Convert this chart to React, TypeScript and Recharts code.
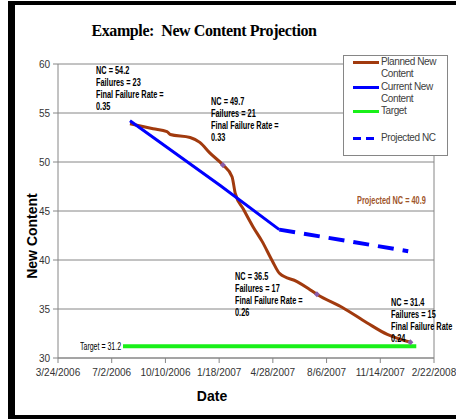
import { LineChart, Line, XAxis, YAxis, CartesianGrid, ReferenceLine } from 'recharts';

const plannedDates = [
  '2006-08-05', '2006-09-17', '2006-10-13', '2006-10-19', '2006-11-25', '2006-12-13',
  '2007-01-01', '2007-01-25', '2007-02-11', '2007-02-17', '2007-03-04', '2007-03-22',
  '2007-04-08', '2007-04-27', '2007-05-11', '2007-06-12', '2007-07-03', '2007-07-19',
  '2007-09-06', '2007-10-20', '2007-11-27', '2008-01-09',
];
const plannedValues = [
  53.9, 53.4, 53.1, 52.8, 52.5, 52.0,
  50.9, 49.7, 48.5, 46.8, 45.2, 43.4,
  41.9, 39.9, 38.6, 37.8, 37.1, 36.5,
  35.1, 33.6, 32.4, 31.6,
];
const plannedMarkers = [7, 17, 21];

const currentDates = ['2006-08-05', '2007-01-20', '2007-05-10'];
const currentValues = [54.2, 47.6, 43.1];

const projectedDates = ['2007-05-10', '2008-01-05'];
const projectedValues = [43.1, 40.9];

const targetDates = ['2006-07-23', '2008-01-20'];
const targetValues = [31.2, 31.2];

const xTicks = [0, 100, 200, 300, 400, 500, 600, 700];
const yTicks = [30, 35, 40, 45, 50, 55, 60];

const START = Date.UTC(2006, 2, 24);
const DAY = 86400000;
const toDay = (s: string) => Math.round((Date.parse(s + 'T00:00:00Z') - START) / DAY);
const fmtDay = (d: number) => {
  const dt = new Date(START + d * DAY);
  return `${dt.getUTCMonth() + 1}/${dt.getUTCDate()}/${dt.getUTCFullYear()}`;
};
const build = (dates: string[], values: number[]) =>
  dates.map((d, i) => ({ day: toDay(d), v: values[i] }));

const planned = build(plannedDates, plannedValues);
const current = build(currentDates, currentValues);
const projected = build(projectedDates, projectedValues);
const target = build(targetDates, targetValues);

const GRID = '#868686';
const BROWN = '#A13A0E';
const BLUE = '#0000FF';
const GREEN = '#19F019';

const markerDot = (idx: number[]) => (p: any) => {
  if (!idx.includes(p.index)) return <g key={p.index} />;
  return (
    <path
      key={p.index}
      d={`M${p.cx},${p.cy - 3}L${p.cx + 3},${p.cy}L${p.cx},${p.cy + 3}L${p.cx - 3},${p.cy}Z`}
      fill="#8A5CA8"
    />
  );
};

// no narrow font installed, so squeeze a normal one
const narrow: React.CSSProperties = {
  position: 'absolute',
  fontFamily: 'Liberation Sans, Arial, sans-serif',
  fontWeight: 'bold',
  fontSize: 10.5,
  lineHeight: '12px',
  color: '#000',
  whiteSpace: 'nowrap',
  transform: 'scaleX(0.7)',
  transformOrigin: 'left top',
};

const notes = [
  { x: 96, y: 64, lines: ['NC = 54.2', 'Failures = 23', 'Final Failure Rate =', '0.35'] },
  { x: 211, y: 95, lines: ['NC = 49.7', 'Failures = 21', 'Final Failure Rate =', '0.33'] },
  { x: 235, y: 270, lines: ['NC = 36.5', 'Failures = 17', 'Final Failure Rate =', '0.26'] },
  { x: 391, y: 296, lines: ['NC = 31.4', 'Failures = 15', 'Final Failure Rate', '0.24'] },
];

const legendItems = [
  { label: ['Planned New', 'Content'], color: BROWN, dash: undefined as string | undefined, y: 6 },
  { label: ['Current New', 'Content'], color: BLUE, dash: undefined, y: 31 },
  { label: ['Target'], color: GREEN, dash: undefined, y: 55 },
  { label: ['Projected NC'], color: BLUE, dash: '8 5', y: 82 },
];

export default function App() {
  return (
    <div style={{ position: 'absolute', left: 0, top: 0, width: 456, height: 419, background: '#fff', overflow: 'hidden' }}>
      <div
        style={{
          position: 'absolute', left: 8, top: 1, width: 460, height: 410,
          borderLeft: '7px solid #000', borderTop: '4px solid #000', borderBottom: '4px solid #000',
        }}
      />
      <div
        style={{
          position: 'absolute', left: 0, top: 22, width: 408, textAlign: 'center',
          fontFamily: '"Liberation Serif", "Times New Roman", serif', fontWeight: 'bold', fontSize: 16,
          letterSpacing: -0.4, color: '#000',
        }}
      >
        Example:&nbsp; New Content Projection
      </div>
      <LineChart width={456} height={419} margin={{ top: 64, right: 22, bottom: 31, left: 18 }}>
        <CartesianGrid vertical={false} stroke={GRID} strokeDasharray="" />
        <XAxis
          type="number"
          dataKey="day"
          domain={[0, 700]}
          ticks={xTicks}
          tickFormatter={fmtDay}
          height={30}
          stroke={GRID}
          tickSize={5}
          tickMargin={6}
          interval={0}
          tick={{ fill: '#333', fontSize: 10, fontFamily: 'Liberation Sans, Arial, sans-serif' }}
        />
        <YAxis
          type="number"
          domain={[30, 60]}
          ticks={yTicks}
          width={40}
          stroke={GRID}
          tickSize={5}
          tickMargin={3}
          interval={0}
          tick={{ fill: '#333', fontSize: 10, fontFamily: 'Liberation Sans, Arial, sans-serif' }}
        />
        <ReferenceLine x={700} stroke={GRID} />
        <Line data={target} dataKey="v" stroke={GREEN} strokeWidth={4} dot={false} isAnimationActive={false} />
        <Line type="monotone" data={planned} dataKey="v" stroke={BROWN} strokeWidth={3} dot={markerDot(plannedMarkers)} isAnimationActive={false} />
        <Line data={current} dataKey="v" stroke={BLUE} strokeWidth={3} dot={false} isAnimationActive={false} />
        <Line data={projected} dataKey="v" stroke={BLUE} strokeWidth={4} strokeDasharray="16 9" dot={false} isAnimationActive={false} />
      </LineChart>

      {notes.map((n, i) => (
        <div key={i} style={{ ...narrow, left: n.x, top: n.y }}>
          {n.lines.map((l, j) => (
            <div key={j}>{l}</div>
          ))}
        </div>
      ))}
      <div style={{ ...narrow, left: 357, top: 194, color: '#A0552A' }}>Projected NC = 40.9</div>
      <div style={{ ...narrow, left: 80, top: 341, fontWeight: 'normal', fontSize: 10 }}>Target = 31.2</div>

      <div
        style={{
          position: 'absolute', left: 12, top: 236, transform: 'translate(-50%, -50%) rotate(-90deg)',
          marginLeft: 20, fontFamily: 'Liberation Sans, Arial, sans-serif', fontWeight: 'bold', fontSize: 14,
          whiteSpace: 'nowrap', color: '#000',
        }}
      >
        New Content
      </div>
      <div
        style={{
          position: 'absolute', left: 212, top: 396, transform: 'translate(-50%, -50%)',
          fontFamily: 'Liberation Sans, Arial, sans-serif', fontWeight: 'bold', fontSize: 14, color: '#000',
        }}
      >
        Date
      </div>

      <div
        style={{
          position: 'absolute', left: 343, top: 55, width: 103, height: 99,
          border: `1px solid ${GRID}`, background: '#fff',
        }}
      >
        {legendItems.map((it, i) => (
          <div key={i}>
            <svg style={{ position: 'absolute', left: 9, top: it.y - 2 }} width={26} height={5}>
              <line x1={0} y1={2.5} x2={26} y2={2.5} stroke={it.color} strokeWidth={3} strokeDasharray={it.dash} />
            </svg>
            <div
              style={{
                position: 'absolute', left: 37, top: it.y - 6, fontFamily: 'Liberation Sans, Arial, sans-serif',
                fontSize: 10, lineHeight: '12px', letterSpacing: -0.4, color: '#404040', whiteSpace: 'nowrap',
              }}
            >
              {it.label.map((l, j) => (
                <div key={j}>{l}</div>
              ))}
            </div>
          </div>
        ))}
      </div>
    </div>
  );
}
